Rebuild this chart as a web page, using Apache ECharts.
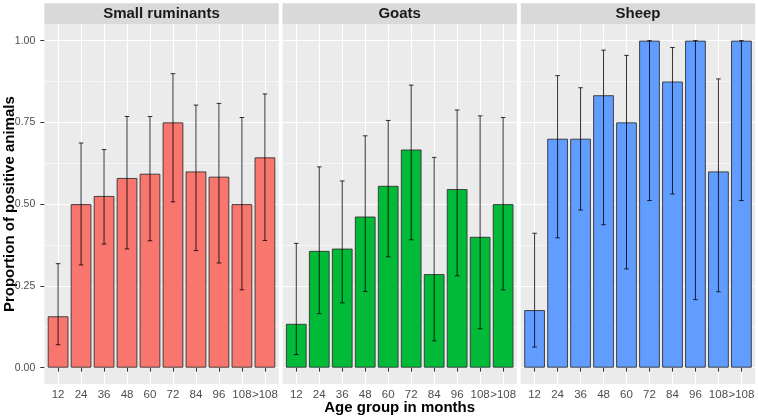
<!DOCTYPE html>
<html>
<head>
<meta charset="utf-8">
<script src="https://cdn.jsdelivr.net/npm/echarts@6/dist/echarts.min.js"></script>
<style>
  html, body { margin: 0; padding: 0; background: #fff; }
  #chart { width: 758px; height: 419px; }
</style>
</head>
<body>
<div id="chart"></div>
<script>
// age groups (months) and facet names
const categories = ['12', '24', '36', '48', '60', '72', '84', '96', '108', '>108']
const panelNames = ['Small ruminants', 'Goats', 'Sheep']
const panelColors = ['#F8766D', '#00BA38', '#619CFF']

// proportion of positive animals, with lower / upper CI
const ruminantsValues = [0.157, 0.50, 0.525, 0.58, 0.593, 0.75, 0.60, 0.584, 0.50, 0.643]
const ruminantsLower = [0.070, 0.314, 0.378, 0.363, 0.388, 0.507, 0.358, 0.320, 0.238, 0.389]
const ruminantsUpper = [0.318, 0.687, 0.667, 0.768, 0.768, 0.899, 0.803, 0.808, 0.765, 0.837]

const goatsValues = [0.134, 0.357, 0.364, 0.462, 0.556, 0.667, 0.286, 0.546, 0.40, 0.50]
const goatsLower = [0.040, 0.165, 0.198, 0.233, 0.339, 0.391, 0.082, 0.281, 0.119, 0.238]
const goatsUpper = [0.380, 0.614, 0.571, 0.709, 0.756, 0.864, 0.643, 0.788, 0.770, 0.765]

const sheepValues = [0.176, 0.70, 0.70, 0.833, 0.75, 1.0, 0.875, 1.0, 0.60, 1.0]
const sheepLower = [0.063, 0.397, 0.482, 0.437, 0.302, 0.511, 0.531, 0.208, 0.232, 0.511]
const sheepUpper = [0.411, 0.893, 0.856, 0.971, 0.955, 1.0, 0.979, 1.0, 0.883, 1.0]

const yTicks = [0, 0.25, 0.5, 0.75, 1.0]
const yMinorTicks = [0.125, 0.375, 0.625, 0.875]

const panelData = [
  [ruminantsValues, ruminantsLower, ruminantsUpper],
  [goatsValues, goatsLower, goatsUpper],
  [sheepValues, sheepLower, sheepUpper]
]

const font = 'Liberation Sans, Arial, sans-serif'
const panelLefts = [44.3, 282.5, 520.8]
const panelWidth = 234.4
const panelTop = 24.3
const panelHeight = 359.7
const xPositions = categories.map((c, i) => i + 1)

const grids = []
const xAxes = []
const yAxes = []
const series = []
const graphics = []

panelLefts.forEach((left, p) => {
  grids.push({
    left: left, top: panelTop, width: panelWidth, height: panelHeight,
    show: true, backgroundColor: '#EBEBEB', borderWidth: 0,
    containLabel: false, outerBoundsMode: 'none'
  })
  xAxes.push({
    type: 'value', gridIndex: p, min: 0.4, max: 10.6,
    name: p === 1 ? 'Age group in months' : '',
    nameLocation: 'middle', nameGap: 16, nameMoveOverlap: false,
    nameTextStyle: { fontFamily: font, fontWeight: 'bold', fontSize: 15, color: '#000' },
    axisLine: { show: false },
    axisTick: { show: true, length: 4, customValues: xPositions, lineStyle: { color: '#333', width: 1 } },
    axisLabel: {
      customValues: xPositions, margin: 5, hideOverlap: false, interval: 0,
      fontFamily: font, fontSize: 11.5, color: '#4D4D4D',
      formatter: v => categories[Math.round(v) - 1]
    },
    splitLine: { show: true, lineStyle: { color: '#fff', width: 1.1 } }
  })
  // major y axis
  yAxes.push({
    type: 'value', gridIndex: p, min: -0.05, max: 1.05,
    name: p === 0 ? 'Proportion of positive animals' : '',
    nameLocation: 'middle', nameGap: 27, nameRotate: 90, nameMoveOverlap: false,
    nameTextStyle: { fontFamily: font, fontWeight: 'bold', fontSize: 15, color: '#000' },
    axisLine: { show: false },
    axisTick: { show: p === 0, length: 4, customValues: yTicks, lineStyle: { color: '#333', width: 1 } },
    axisLabel: {
      show: p === 0, customValues: yTicks, margin: 9,
      fontFamily: font, fontSize: 10.5, color: '#4D4D4D',
      formatter: v => v.toFixed(2)
    },
    splitLine: { show: true, lineStyle: { color: '#fff', width: 1.1 } }
  })
  // minor y grid lines
  yAxes.push({
    type: 'value', gridIndex: p, min: -0.05, max: 1.05, position: 'left',
    axisLine: { show: false },
    axisTick: { show: false, customValues: yMinorTicks },
    axisLabel: { show: false, customValues: yMinorTicks },
    splitLine: { show: true, lineStyle: { color: '#fff', width: 0.55 } }
  })

  const [vals, lo, hi] = panelData[p]
  series.push({
    type: 'bar', xAxisIndex: p, yAxisIndex: p * 2, barWidth: '90%',
    itemStyle: { color: panelColors[p], borderColor: '#333', borderWidth: 0.9 },
    data: vals.map((v, i) => [xPositions[i], v]),
    z: 2
  })
  series.push({
    type: 'custom', xAxisIndex: p, yAxisIndex: p * 2, z: 3,
    data: vals.map((v, i) => [xPositions[i], lo[i], hi[i]]),
    renderItem: (params, api) => {
      const x = api.value(0)
      const a = api.coord([x, api.value(1)])
      const b = api.coord([x, api.value(2)])
      const hw = api.size([0.2, 0])[0] / 2
      const style = { stroke: 'rgba(0,0,0,0.8)', lineWidth: 1 }
      return {
        type: 'group',
        children: [
          { type: 'line', shape: { x1: a[0], y1: a[1], x2: b[0], y2: b[1] }, style: style },
          { type: 'line', shape: { x1: a[0] - hw, y1: a[1], x2: a[0] + hw, y2: a[1] }, style: style },
          { type: 'line', shape: { x1: b[0] - hw, y1: b[1], x2: b[0] + hw, y2: b[1] }, style: style }
        ]
      }
    }
  })

  // facet strip
  graphics.push({
    type: 'rect', left: left, top: 3.3, shape: { width: panelWidth, height: 21 },
    style: { fill: '#D9D9D9' }, silent: true
  })
  graphics.push({
    type: 'text', x: left + panelWidth / 2, y: 14,
    style: {
      text: panelNames[p], fill: '#1A1A1A', font: 'bold 15px ' + font,
      textAlign: 'center', textVerticalAlign: 'middle'
    }, silent: true
  })
})

const myChart = echarts.init(document.getElementById('chart'), null, { renderer: 'canvas' })
myChart.setOption({
  animation: false,
  backgroundColor: '#fff',
  grid: grids,
  xAxis: xAxes,
  yAxis: yAxes,
  series: series,
  graphic: graphics
})
</script>
</body>
</html>
